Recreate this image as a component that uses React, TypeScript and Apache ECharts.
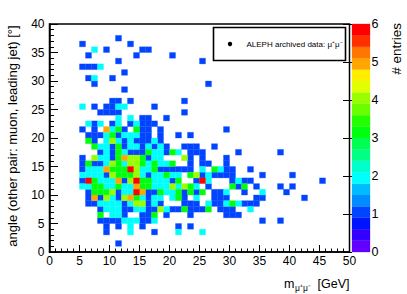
import React, { useEffect, useRef } from "react";
import * as echarts from "echarts";

// Each cell: [mass bin low edge (GeV), angle bin low edge (deg)], bins are 1 GeV x 1 deg
const ones: [number, number][] = [
  [11, 37], [5, 36], [13, 36], [9, 35], [15, 35], [16, 35], [6, 34], [14, 34], [20, 34],
  [11, 33], [25, 33], [5, 32], [6, 32], [7, 32], [12, 31], [6, 30], [10, 30], [7, 29], [26, 29],
  [12, 28], [10, 26], [11, 26], [13, 26], [22, 26],
  [7, 25], [9, 25], [10, 25], [17, 25],
  [8, 24], [9, 24], [10, 24], [11, 24], [22, 24],
  [15, 23], [16, 23], [19, 23],
  [7, 22], [10, 22], [13, 22], [15, 22], [16, 22], [17, 22],
  [5, 21], [7, 21], [12, 21], [15, 21], [16, 21], [18, 21], [29, 21],
  [6, 20], [7, 20], [8, 20], [11, 20], [15, 20], [16, 20], [18, 20], [21, 20], [23, 20],
  [7, 19], [12, 19], [14, 19], [15, 19], [16, 19], [18, 19],
  [10, 18], [12, 18], [15, 18], [17, 18], [19, 18], [22, 18], [23, 18], [24, 18], [27, 18],
  [8, 17], [10, 17], [13, 17], [14, 17], [15, 17], [19, 17], [23, 17], [24, 17], [25, 17], [31, 17], [38, 17],
  [5, 16], [10, 16], [16, 16], [23, 16], [25, 16], [29, 16],
  [5, 15], [7, 15], [8, 15], [23, 15], [25, 15], [26, 15], [29, 15],
  [5, 14], [18, 14], [19, 14], [20, 14], [21, 14], [22, 14], [23, 14], [29, 14], [30, 14], [33, 14],
  [9, 13], [16, 13], [25, 13], [27, 13], [28, 13], [29, 13], [30, 13], [35, 13], [40, 13],
  [5, 12], [12, 12], [20, 12], [24, 12], [30, 12], [32, 12], [33, 12], [45, 12],
  [26, 11], [31, 11], [34, 11], [38, 11], [40, 11],
  [6, 10], [11, 10], [16, 10], [17, 10], [22, 10], [24, 10], [27, 10], [28, 10], [32, 10], [39, 10],
  [6, 9], [8, 9], [11, 9], [16, 9], [22, 9], [27, 9], [28, 9], [29, 9], [34, 9], [35, 9], [42, 9],
  [6, 8], [7, 8], [12, 8], [16, 8], [18, 8], [22, 8], [23, 8], [24, 8], [27, 8], [28, 8], [32, 8], [33, 8], [34, 8],
  [8, 7], [12, 7], [13, 7], [16, 7], [17, 7], [20, 7], [21, 7], [23, 7], [24, 7], [25, 7], [28, 7], [29, 7], [30, 7],
  [12, 6], [15, 6], [16, 6], [19, 6], [23, 6], [29, 6], [30, 6], [31, 6],
  [8, 5], [9, 5], [10, 5], [11, 5], [15, 5], [16, 5], [35, 5], [38, 5],
  [9, 4], [11, 4], [15, 4], [21, 4], [23, 4],
  [9, 3], [17, 3],
  [11, 1],
];

const twos: [number, number][] = [
  [7, 35], [8, 32], [7, 30],
  [5, 25], [11, 25], [12, 25],
  [11, 23], [13, 23],
  [6, 22], [8, 22], [11, 22], [14, 22],
  [10, 21],
  [9, 20], [12, 20], [13, 20], [14, 20],
  [9, 19], [11, 19], [13, 19], [17, 19],
  [8, 18], [9, 18], [13, 18], [14, 18], [16, 18], [18, 18],
  [9, 17], [12, 17], [17, 17], [18, 17], [21, 17],
  [8, 16], [9, 16], [17, 16], [18, 16],
  [9, 15], [12, 15], [16, 15], [18, 15], [19, 15],
  [6, 14], [7, 14], [8, 14], [15, 14], [16, 14], [25, 14], [28, 14],
  [5, 13], [6, 13], [7, 13], [8, 13], [15, 13], [17, 13], [18, 13], [20, 13], [21, 13], [26, 13],
  [8, 12], [9, 12], [10, 12], [17, 12], [18, 12], [19, 12], [26, 12], [31, 12],
  [5, 11], [6, 11], [9, 11], [10, 11], [12, 11], [13, 11], [17, 11], [18, 11], [19, 11], [21, 11], [24, 11],
  [12, 10], [13, 10], [19, 10], [20, 10], [29, 10], [35, 10],
  [10, 9], [15, 9], [17, 9], [18, 9], [20, 9], [24, 9],
  [8, 8], [9, 8], [10, 8], [11, 8], [13, 8], [17, 8], [26, 8], [29, 8], [31, 8],
  [9, 7], [10, 7], [11, 7], [14, 7], [15, 7], [19, 7], [33, 7],
  [10, 6], [11, 6],
  [12, 5], [13, 5], [14, 5], [17, 5],
  [13, 4],
  [13, 3], [21, 3], [25, 3],
];

const threes: [number, number][] = [
  [11, 21], [14, 21], [10, 20], [6, 19], [7, 18], [11, 18],
  [11, 17], [16, 17], [20, 17], [11, 16], [15, 16],
  [6, 15], [11, 15], [15, 15], [17, 15], [20, 15],
  [10, 14], [11, 14], [12, 14], [17, 14], [27, 14],
  [11, 13], [12, 13], [13, 13], [19, 13], [23, 13],
  [7, 12], [15, 12], [16, 12], [21, 12],
  [7, 11], [8, 11], [11, 11], [15, 11], [16, 11], [23, 11], [30, 11], [32, 11],
  [7, 10], [8, 10], [9, 10], [18, 10], [21, 10], [23, 10], [25, 10],
  [14, 9], [21, 9], [30, 8], [22, 7], [26, 7], [8, 6], [17, 6],
];

const fours: [number, number][] = [
  [10, 19], [7, 16], [13, 16], [14, 16], [22, 16], [10, 15], [13, 15], [14, 15],
  [14, 14], [10, 13], [14, 13], [24, 13], [13, 12], [20, 11], [22, 11], [10, 10],
  [9, 9], [12, 9], [14, 8], [15, 8], [18, 7],
];

const fives: [number, number][] = [
  [9, 21], [12, 16], [9, 14], [11, 12], [14, 11], [15, 10], [7, 9], [13, 9],
];

const sixes: [number, number][] = [
  [13, 14], [6, 12], [14, 12], [25, 12], [14, 10],
];

// ROOT "pretty palette" colours of the 20 contour bands between 0 and 6 entries
const bandLow = [0, 0.3, 0.6, 0.9, 1.2, 1.5, 1.8, 2.1, 2.4, 2.7, 3.0, 3.3, 3.6, 3.9, 4.2, 4.5, 4.8, 5.1, 5.4, 5.7];
const bandColors = [
  "#6300ff", "#3300ff", "#0014ff", "#0044ff", "#008bff", "#00bbff", "#00fffc", "#00ffcc",
  "#00ff85", "#00ff55", "#00ff0e", "#22ff00", "#69ff00", "#99ff00", "#e0ff00", "#ffee00",
  "#ffa700", "#ff7700", "#ff3000", "#ff0000",
];
const zMax = 6;

const FONT = "'Liberation Sans', Arial, Helvetica, sans-serif";

export default function App() {
  const ref = useRef<HTMLDivElement>(null);

  useEffect(() => {
    if (!ref.current) return;
    const chart = echarts.init(ref.current, undefined, { renderer: "svg" });

    const cells: number[][] = [];
    const groups: [number, [number, number][]][] = [
      [1, ones], [2, twos], [3, threes], [4, fours], [5, fives], [6, sixes],
    ];
    groups.forEach(([n, list]) => list.forEach(([m, a]) => cells.push([m, a, n])));

    const nb = bandLow.length;
    const colorFor = (v: number) => {
      const k = Math.min(nb - 1, Math.floor(0.01 + (v * nb) / zMax));
      return bandColors[k];
    };

    chart.setOption({
      animation: false,
      backgroundColor: "#fff",
      grid: [
        {
          left: 49.5, top: 24, width: 300, height: 228,
          show: true,
          borderColor: "#000",
          borderWidth: 1.5,
          backgroundColor: "transparent",
          containLabel: false,
          outerBoundsMode: "none",
        },
        {
          left: 352, top: 24, width: 18, height: 228,
          show: false, containLabel: false, outerBoundsMode: "none",
        },
      ],
      xAxis: [
        {
          type: "value", gridIndex: 0, min: 0, max: 50, interval: 5, z: 5,
          axisLine: { show: true, lineStyle: { color: "#000", width: 1.5 } },
          axisTick: { show: true, inside: true, length: 7, lineStyle: { color: "#000", width: 1 } },
          minorTick: { show: true, splitNumber: 5, length: 3.5, lineStyle: { color: "#000", width: 1 } },
          axisLabel: { show: true, color: "#000", fontSize: 12, fontFamily: FONT, margin: 3 },
          splitLine: { show: false },
          minorSplitLine: { show: false },
        },
        { type: "value", gridIndex: 1, min: 0, max: 1, show: false },
      ],
      yAxis: [
        {
          type: "value", gridIndex: 0, min: 0, max: 40, interval: 5, z: 5,
          axisLine: { show: true, lineStyle: { color: "#000", width: 1.5 } },
          axisTick: { show: true, inside: true, length: 8.5, lineStyle: { color: "#000", width: 1 } },
          minorTick: { show: true, splitNumber: 5, length: 4.5, lineStyle: { color: "#000", width: 1 } },
          axisLabel: { show: true, color: "#000", fontSize: 12, fontFamily: FONT, margin: 5 },
          splitLine: { show: false },
          minorSplitLine: { show: false },
        },
        {
          type: "value", gridIndex: 1, min: 0, max: zMax, interval: 1, position: "right", z: 5,
          axisLine: { show: false },
          axisTick: { show: true, inside: true, length: 9, lineStyle: { color: "#000", width: 1 } },
          axisLabel: { show: true, color: "#000", fontSize: 12.5, fontFamily: FONT, margin: 1.5 },
          splitLine: { show: false },
        },
      ],
      series: [
        {
          type: "custom",
          xAxisIndex: 0,
          yAxisIndex: 0,
          z: 2,
          data: cells,
          encode: { x: 0, y: 1 },
          renderItem: (params: any, api: any) => {
            const m = api.value(0);
            const a = api.value(1);
            const v = api.value(2);
            const p0 = api.coord([m, a + 1]);
            const p1 = api.coord([m + 1, a]);
            return {
              type: "rect",
              shape: { x: p0[0], y: p0[1], width: p1[0] - p0[0], height: p1[1] - p0[1] },
              style: { fill: colorFor(v), stroke: colorFor(v), lineWidth: 0.3 },
            };
          },
        },
        {
          type: "custom",
          xAxisIndex: 1,
          yAxisIndex: 1,
          z: 2,
          data: bandLow.map((lo, i) => [0, lo, i]),
          encode: { x: 0, y: 1 },
          renderItem: (params: any, api: any) => {
            const i = api.value(2);
            const lo = bandLow[i];
            const hi = i + 1 < bandLow.length ? bandLow[i + 1] : zMax;
            const p0 = api.coord([0, hi]);
            const p1 = api.coord([1, lo]);
            return {
              type: "rect",
              shape: { x: p0[0], y: p0[1], width: p1[0] - p0[0], height: p1[1] - p0[1] },
              style: { fill: bandColors[i], stroke: bandColors[i], lineWidth: 0.3 },
            };
          },
        },
      ],
      graphic: [
        {
          type: "text", x: 12, y: 136, rotation: Math.PI / 2, z: 10,
          style: {
            text: "angle (other pair: muon, leading jet) [°]",
            fontSize: 13, fontFamily: FONT, fill: "#000", align: "center", verticalAlign: "middle",
          },
        },
        {
          type: "text", x: 396, y: 23, rotation: Math.PI / 2, z: 10,
          style: {
            text: "# entries",
            fontSize: 13.5, fontFamily: FONT, fill: "#000", align: "right", verticalAlign: "middle",
          },
        },
        {
          type: "text", x: 294.5, y: 284, z: 10,
          style: { text: "m", fontSize: 12.5, fontFamily: FONT, fill: "#000", align: "right", verticalAlign: "middle" },
        },
        {
          type: "text", x: 295, y: 288, z: 10,
          style: { text: "μ⁺μ⁻", fontSize: 8.5, fontFamily: FONT, fill: "#000", align: "left", verticalAlign: "middle" },
        },
        {
          type: "text", x: 349.5, y: 284, z: 10,
          style: { text: "[GeV]", fontSize: 12.5, fontFamily: FONT, fill: "#000", align: "right", verticalAlign: "middle" },
        },
        {
          type: "rect", z: 10,
          shape: { x: 213.5, y: 27.5, width: 132, height: 33 },
          style: { fill: "#fff", stroke: "#000", lineWidth: 1.6 },
        },
        {
          type: "circle", z: 11,
          shape: { cx: 230, cy: 44, r: 2.2 },
          style: { fill: "#000" },
        },
        {
          type: "text", x: 246.5, y: 44, z: 11,
          style: {
            text: "ALEPH archived data: μ⁺μ⁻",
            fontSize: 8, fontFamily: FONT, fill: "#000", align: "left", verticalAlign: "middle",
          },
        },
      ],
    });

    return () => chart.dispose();
  }, []);

  return (
    <div
      ref={ref}
      style={{ position: "fixed", left: 0, top: 0, width: 407, height: 294, background: "#fff" }}
    />
  );
}
